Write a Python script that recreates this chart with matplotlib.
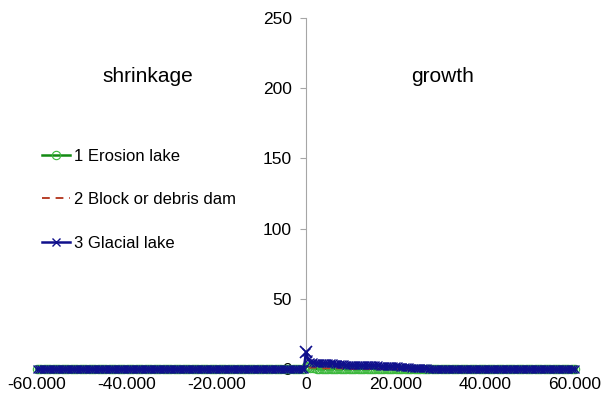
import numpy as np
import matplotlib
matplotlib.use('Agg')
import matplotlib.pyplot as plt
from matplotlib.ticker import FuncFormatter

plt.rcParams['font.family'] = ['Liberation Sans', 'DejaVu Sans']

# size-change classes (bin centres), shrinkage on the left, growth on the right
step = 500
change = np.arange(-60000, 60001, step)

# nonzero counts only occur just right of zero; everything else sits at 0
glacial_near = [12, 7, 5, 5, 4.5, 4.5, 4.5, 4, 4, 4, 4, 4, 4, 3.5, 3.5, 3.5,
                3.5, 3.5, 3, 3, 3, 3, 3, 3, 3, 2.5, 2.5, 2.5, 2.5, 2.5, 2.5,
                2.5, 2.5, 2, 2, 2, 2, 2, 2, 2, 2, 2, 1.5, 1.5, 1.5, 1.5, 1.5,
                1, 1, 1, 1, 1, 0.5, 0.5, 0.5]
erosion_near = [2, 1.5, 1, 0.5, 0.5]
block_near = [1, 1, 1, 1, 1, 1, 1, 0.5, 0.5, 0.5, 0.5, 0.5, 0.5, 0.5, 0.5,
              0.5, 0.5, 0.5, 0.5, 0.5]

i0 = int(np.where(change == 0)[0][0])
glacial = np.zeros(len(change))
glacial[i0:i0 + len(glacial_near)] = glacial_near
erosion = np.zeros(len(change))
erosion[i0:i0 + len(erosion_near)] = erosion_near
block = np.zeros(len(change))
block[i0:i0 + len(block_near)] = block_near

fig = plt.figure(figsize=(6.03, 4.05), dpi=100)
ax = fig.add_axes([37 / 603, 36 / 405, 538 / 603, 351 / 405])

l1, = ax.plot(change, erosion, color='#138a13', lw=1.8, marker='o', ms=6,
              mfc='none', mec='#3cb83c', mew=0.8, clip_on=False, zorder=3)
l2, = ax.plot(change, block, color='#b8402a', lw=1.4, ls=(0, (4, 3)),
              clip_on=False, zorder=4)
l3, = ax.plot(change, glacial, color='#10108c', lw=1.8, marker='x', ms=5.5,
              mew=1.0, clip_on=False, zorder=5)
# the first point of the glacial series has a larger cross
ax.plot([0], [glacial[i0]], color='#10108c', marker='x', ms=9, mew=1.2,
        ls='none', clip_on=False, zorder=6)

ax.set_xlim(-60000, 60000)
ax.set_ylim(0, 250)
ax.set_xticks([-60000, -40000, -20000, 0, 20000, 40000, 60000])
ax.set_yticks([0, 50, 100, 150, 200, 250])


def dotted(v, pos):
    if v == 0:
        return '0'
    return f'{int(v):,}'.replace(',', '.')


ax.xaxis.set_major_formatter(FuncFormatter(dotted))

for s in ['top', 'right']:
    ax.spines[s].set_visible(False)
ax.spines['left'].set_position(('data', 0))
ax.spines['left'].set_color('#a6a6a6')
ax.spines['bottom'].set_color('#a6a6a6')
ax.tick_params(axis='y', direction='out', length=4, color='#a6a6a6',
               labelsize=12.5, pad=6)
ax.tick_params(axis='x', length=0, labelsize=12.5, pad=6)

fig.text(148 / 603, 1 - 76 / 405, 'shrinkage', ha='center', va='center',
         fontsize=15)
fig.text(443 / 603, 1 - 76 / 405, 'growth', ha='center', va='center',
         fontsize=15)

fig.legend([l1, l2, l3], ['1 Erosion lake', '2 Block or debris dam', '3 Glacial lake'],
           loc='upper left', bbox_to_anchor=(27 / 603, 1 - 134 / 405),
           frameon=False, fontsize=12, handlelength=1.7, handletextpad=0.2,
           labelspacing=1.7)

fig.savefig('out.png', dpi=100)
